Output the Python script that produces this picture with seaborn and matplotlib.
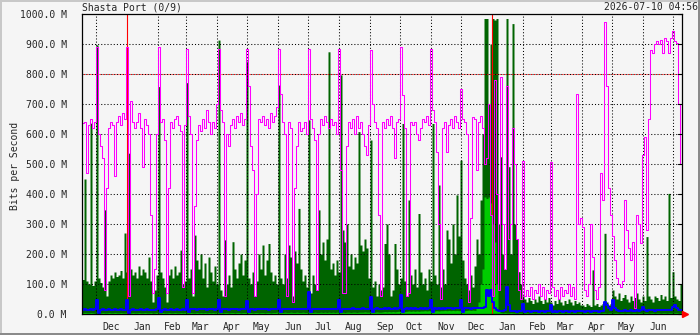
import matplotlib
matplotlib.use("Agg")
import matplotlib.pyplot as plt
import matplotlib.dates as mdates
from matplotlib.patches import Rectangle
import seaborn as sns
import pandas as pd

# time span of the graph (2-day bins)
start = pd.Timestamp("2024-11-17 04:56")
end = pd.Timestamp("2026-07-10 04:56")

# values in Mbit/s, one per 2-day bin
magenta = [
    636, 640, 470, 630, 650, 620, 640, 890, 600, 560,
    520, 80, 420, 620, 640, 630, 460, 640, 660, 630,
    670, 650, 890, 60, 710, 640, 620, 640, 670, 620,
    490, 650, 630, 600, 330, 70, 150, 600, 890, 640,
    650, 580, 70, 420, 640, 620, 650, 660, 630, 610,
    90, 630, 885, 660, 600, 70, 360, 580, 630, 610,
    650, 620, 680, 640, 600, 640, 620, 700, 885, 680,
    640, 60, 600, 560, 630, 650, 620, 660, 640, 670,
    630, 650, 885, 760, 560, 480, 60, 400, 650, 640,
    660, 630, 650, 620, 670, 640, 660, 690, 885, 735,
    640, 600, 60, 640, 620, 40, 420, 560, 640, 610,
    620, 640, 600, 883, 650, 620, 580, 80, 600, 650,
    630, 660, 640, 620, 650, 630, 640, 600, 883, 480,
    70, 70, 560, 640, 620, 650, 600, 660, 620, 640,
    600, 560, 530, 630, 880, 700, 640, 620, 330, 60,
    640, 620, 650, 630, 660, 620, 520, 640, 650, 890,
    730, 620, 60, 70, 640, 630, 640, 600, 580, 620,
    650, 640, 660, 630, 885, 680, 640, 540, 300, 50,
    620, 640, 540, 630, 650, 620, 660, 640, 620, 750,
    650, 640, 600, 40, 320, 658, 650, 480, 640, 660,
    620, 500, 520, 700, 330, 60, 780, 400, 80, 790,
    300, 150, 760, 250, 300, 620, 500, 250, 80, 50,
    510, 60, 80, 60, 90, 50, 80, 70, 100, 60,
    90, 50, 80, 70, 508, 90, 60, 80, 50, 90,
    60, 80, 70, 100, 60, 90, 50, 735, 300, 320,
    290, 80, 60, 100, 300, 190, 80, 50, 90, 470,
    380, 975, 760, 420, 330, 260, 180, 120, 100, 90,
    110, 380, 280, 220, 180, 240, 20, 330, 300, 236,
    530, 590, 280, 650, 880, 870, 900, 910, 900, 915,
    870, 920, 910, 870, 920, 945, 910, 905, 700, 500,
]

dark_green = [
    115, 450, 110, 100, 636, 95, 110, 897, 120, 105,
    90, 347, 60, 110, 130, 120, 140, 125, 130, 145,
    120, 270, 140, 536, 150, 130, 140, 120, 160, 130,
    150, 140, 120, 190, 110, 40, 80, 130, 758, 140,
    120, 90, 40, 130, 150, 120, 160, 130, 140, 213,
    100, 110, 771, 120, 150, 60, 263, 180, 150, 200,
    120, 170, 90, 190, 140, 110, 160, 100, 913, 80,
    60, 247, 100, 130, 90, 241, 150, 120, 170, 200,
    130, 180, 841, 120, 100, 140, 60, 110, 200, 150,
    230, 130, 180, 235, 140, 110, 130, 100, 763, 120,
    100, 200, 120, 230, 190, 60, 210, 170, 352, 150,
    110, 130, 90, 647, 70, 130, 100, 80, 347, 200,
    240, 180, 250, 874, 150, 170, 130, 180, 140, 797,
    280, 240, 300, 160, 200, 150, 190, 170, 608, 230,
    210, 250, 220, 120, 580, 90, 110, 60, 100, 80,
    90, 235, 300, 200, 60, 80, 235, 150, 100, 120,
    635, 110, 60, 380, 130, 100, 150, 90, 335, 140,
    100, 120, 80, 150, 110, 635, 130, 100, 430, 90,
    150, 100, 280, 250, 170, 300, 200, 397, 260, 513,
    180, 120, 100, 80, 130, 90, 160, 250, 200, 380,
    600, 985, 985, 700, 900, 985, 980, 985, 300, 524,
    200, 150, 985, 491, 200, 968, 300, 250, 141, 100,
    60, 50, 40, 55, 45, 35, 50, 40, 60, 45,
    35, 50, 40, 55, 40, 30, 45, 35, 50, 40,
    30, 45, 35, 50, 40, 30, 45, 35, 40, 30,
    30, 25, 35, 30, 25, 147, 30, 35, 25, 30,
    35, 269, 40, 30, 35, 80, 60, 50, 70, 45,
    55, 65, 50, 40, 60, 45, 55, 70, 50, 40,
    60, 45, 258, 60, 50, 40, 60, 55, 45, 65,
    50, 60, 45, 402, 55, 141, 60, 50, 45, 100,
]

light_green = [
    4, 5, 4, 4, 5, 4, 3, 5, 4, 4,
    5, 4, 4, 5, 4, 4, 5, 4, 4, 5,
    4, 4, 5, 4, 4, 5, 4, 4, 5, 4,
    4, 5, 4, 4, 5, 3, 4, 5, 4, 4,
    5, 4, 4, 5, 4, 4, 5, 4, 4, 5,
    4, 5, 4, 4, 5, 4, 4, 5, 4, 5,
    4, 5, 4, 5, 4, 5, 4, 5, 4, 5,
    4, 5, 5, 4, 5, 5, 4, 5, 5, 4,
    5, 5, 4, 5, 5, 4, 5, 5, 4, 5,
    5, 4, 5, 5, 4, 5, 5, 6, 5, 5,
    5, 6, 5, 5, 6, 5, 5, 6, 5, 5,
    6, 5, 5, 6, 5, 5, 6, 5, 5, 6,
    5, 6, 5, 6, 5, 6, 5, 6, 5, 6,
    6, 5, 6, 6, 5, 6, 6, 5, 6, 6,
    6, 7, 6, 6, 7, 6, 6, 7, 6, 6,
    7, 8, 7, 8, 7, 8, 7, 8, 9, 8,
    9, 8, 9, 10, 9, 10, 9, 10, 9, 10,
    10, 11, 10, 11, 10, 11, 10, 11, 10, 11,
    11, 12, 11, 12, 11, 12, 11, 12, 11, 12,
    12, 11, 12, 13, 12, 13, 12, 20, 40, 100,
    150, 390, 385, 390, 370, 300, 240, 100, 10, 5,
    4, 5, 4, 4, 5, 4, 4, 3, 4, 4,
    3, 4, 4, 3, 4, 4, 3, 4, 4, 3,
    4, 4, 3, 4, 4, 3, 4, 4, 3, 4,
    4, 3, 4, 4, 3, 4, 4, 3, 4, 4,
    3, 4, 4, 3, 4, 4, 3, 4, 4, 3,
    4, 4, 3, 4, 4, 3, 4, 4, 3, 4,
    4, 3, 4, 4, 3, 4, 4, 3, 4, 4,
    3, 4, 4, 3, 4, 4, 3, 4, 4, 3,
    4, 4, 3, 4, 4, 3, 4, 4, 3, 4,
]

blue = [
    15, 16, 15, 14, 16, 15, 17, 47, 5, 15,
    16, 15, 14, 16, 15, 15, 16, 14, 15, 16,
    15, 15, 47, 5, 15, 16, 15, 15, 14, 16,
    15, 15, 16, 15, 14, 12, 15, 16, 52, 6,
    15, 16, 15, 15, 16, 14, 15, 16, 15, 15,
    16, 15, 47, 6, 16, 17, 16, 15, 17, 16,
    16, 17, 15, 16, 17, 16, 15, 16, 47, 6,
    16, 17, 16, 15, 16, 17, 16, 16, 15, 17,
    16, 16, 45, 6, 16, 17, 15, 16, 17, 16,
    16, 17, 16, 15, 17, 16, 16, 17, 47, 6,
    17, 16, 17, 18, 16, 17, 18, 17, 16, 17,
    18, 17, 17, 74, 6, 17, 18, 17, 16, 18,
    17, 18, 17, 16, 18, 17, 17, 18, 47, 6,
    18, 17, 18, 17, 18, 19, 17, 18, 17, 18,
    19, 18, 17, 18, 58, 6, 18, 19, 18, 17,
    18, 19, 18, 19, 18, 17, 19, 18, 19, 63,
    6, 18, 19, 18, 19, 18, 19, 18, 17, 19,
    18, 19, 18, 19, 47, 6, 19, 18, 19, 18,
    19, 18, 19, 20, 19, 18, 19, 20, 19, 47,
    6, 19, 20, 19, 18, 20, 19, 20, 19, 20,
    20, 25, 80, 60, 80, 40, 20, 12, 10, 9,
    10, 12, 91, 30, 10, 9, 10, 8, 9, 10,
    35, 8, 9, 10, 8, 9, 10, 9, 8, 10,
    9, 8, 9, 10, 30, 8, 9, 8, 10, 9,
    8, 9, 10, 8, 9, 10, 8, 9, 10, 9,
    9, 8, 10, 9, 8, 9, 10, 9, 8, 10,
    9, 40, 30, 20, 15, 47, 20, 12, 10, 11,
    10, 12, 11, 10, 12, 11, 10, 12, 11, 12,
    24, 12, 11, 12, 13, 12, 11, 13, 12, 13,
    12, 13, 12, 14, 13, 24, 30, 20, 14, 13,
]

y_ticks = [0, 100, 200, 300, 400, 500, 600, 700, 800, 900, 1000]

bg = "#f5f5f5"
sns.set_style("white", {"axes.facecolor": bg, "figure.facecolor": bg})
plt.rcParams["font.family"] = "DejaVu Sans Mono"
plt.rcParams["font.size"] = 7

dates = pd.date_range(start, periods=len(magenta), freq="2D")
edges = list(dates) + [end]


def stepped(vals):
    return list(vals) + [vals[-1]]


df = pd.DataFrame({
    "date": edges,
    "magenta": stepped(magenta),
    "dark": stepped(dark_green),
    "light": stepped(light_green),
    "blue": stepped(blue),
})

fig = plt.figure(figsize=(7, 3.35), dpi=100)
ax = fig.add_axes([82 / 700, 21 / 335, 600 / 700, 300 / 335])

ax.fill_between(df["date"], 0, df["dark"], step="post", color="#006400", lw=0, zorder=1)
ax.fill_between(df["date"], 0, df["light"], step="post", color="#00cc00", lw=0, zorder=2)

# grid on top of the areas, like rrdtool
for v in y_ticks[1:-1]:
    ax.axhline(v, color="black", lw=0.75, ls=(0, (1, 2)), zorder=3)
ax.axhline(800, color="red", lw=0.75, ls=(1.5, (1, 2)), zorder=3)

months = pd.date_range("2024-12-01", "2026-07-01", freq="MS")
for m in months:
    if m.month == 1:
        ax.axvline(m, color="red", lw=0.8, zorder=3.5)
    else:
        ax.axvline(m, color="black", lw=0.75, ls=(0, (1, 2)), zorder=3)

sns.lineplot(data=df, x="date", y="blue", color="#0000ff", lw=1.4,
             drawstyle="steps-post", estimator=None, ax=ax, zorder=4)
sns.lineplot(data=df, x="date", y="magenta", color="#ff00ff", lw=0.75,
             drawstyle="steps-post", estimator=None, ax=ax, zorder=5)

ax.set_xlim(start, end)
ax.set_ylim(0, 1000)
ax.set_yticks(y_ticks)
ax.set_yticklabels([f"{v:.1f} M" for v in y_ticks])
ax.tick_params(axis="y", length=0, pad=11, labelsize=7)
ax.set_xlabel("")
ax.set_ylabel("")

ax.xaxis.set_major_locator(mdates.MonthLocator())
ax.xaxis.set_major_formatter(plt.NullFormatter())
ax.xaxis.set_minor_locator(mdates.MonthLocator(bymonthday=16))
ax.xaxis.set_minor_formatter(mdates.DateFormatter("%b"))
ax.tick_params(axis="x", which="both", length=0, pad=6, labelsize=7)

for s in ax.spines.values():
    s.set_color("black")
    s.set_linewidth(0.9)
    s.set_zorder(6)

# small inward ticks on the right edge
for v in y_ticks:
    ax.plot([1 - 4 / 600, 1], [v, v], transform=ax.get_yaxis_transform(),
            color="black", lw=0.8, clip_on=False, zorder=6)

# red arrow at the end of the time axis
ax.plot([1 + 3 / 600], [0], marker=">", color="red", markersize=5,
        transform=ax.transAxes, clip_on=False, zorder=7)

fig.text(82 / 700, 1 - 7 / 335, "Shasta Port (0/9)", ha="left", va="center", fontsize=7)
fig.text(698 / 700, 1 - 7 / 335, "2026-07-10 04:56", ha="right", va="center", fontsize=7)
fig.text(15 / 700, 1 - 166 / 335, "Bits per Second", rotation=90,
         ha="center", va="center", fontsize=7)

# 3d style frame round the image
fig.patches.append(Rectangle((0, 1 - 2 / 335), 1, 2 / 335, transform=fig.transFigure,
                             color="#c8c8c8", lw=0))
fig.patches.append(Rectangle((0, 0), 2 / 700, 1, transform=fig.transFigure,
                             color="#c8c8c8", lw=0))
fig.patches.append(Rectangle((0, 0), 1, 2 / 335, transform=fig.transFigure,
                             color="#8a8a8a", lw=0))
fig.patches.append(Rectangle((1 - 2 / 700, 0), 2 / 700, 1, transform=fig.transFigure,
                             color="#8a8a8a", lw=0))

fig.savefig("out.png", dpi=100, facecolor=bg)
